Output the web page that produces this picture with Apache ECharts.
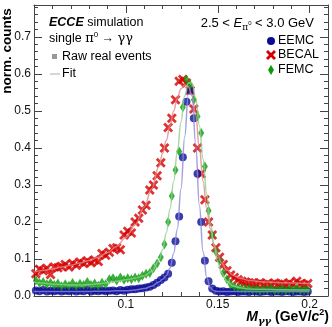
<!DOCTYPE html>
<html>
<head>
<meta charset="utf-8">
<script src="https://cdn.jsdelivr.net/npm/echarts@6/dist/echarts.min.js"></script>
<style>
  html, body { margin: 0; padding: 0; background: #fff; }
  #chart { width: 332px; height: 327px; }
</style>
</head>
<body>
<div id="chart"></div>
<script>
// bin centres (GeV/c^2)
var binX = [0.051, 0.053, 0.055, 0.057, 0.059, 0.061, 0.063, 0.065, 0.067, 0.069,
            0.071, 0.073, 0.075, 0.077, 0.079, 0.081, 0.083, 0.085, 0.087, 0.089,
            0.091, 0.093, 0.095, 0.097, 0.099, 0.101, 0.103, 0.105, 0.107, 0.109,
            0.111, 0.113, 0.115, 0.117, 0.119, 0.121, 0.123, 0.125, 0.127, 0.129,
            0.131, 0.133, 0.135, 0.137, 0.139, 0.141, 0.143, 0.145, 0.147, 0.149,
            0.151, 0.153, 0.155, 0.157, 0.159, 0.161, 0.163, 0.165, 0.167, 0.169,
            0.171, 0.173, 0.175, 0.177, 0.179, 0.181, 0.183, 0.185, 0.187, 0.189,
            0.191, 0.193, 0.195, 0.197, 0.199];

var becal = [0.060, 0.072, 0.068, 0.075, 0.058, 0.078, 0.076, 0.080, 0.085, 0.078,
             0.088, 0.083, 0.092, 0.088, 0.095, 0.090, 0.097, 0.093, 0.115, 0.110,
             0.118, 0.128, 0.130, 0.125, 0.165, 0.175, 0.170, 0.200, 0.210, 0.232,
             0.245, 0.286, 0.300, 0.325, 0.360, 0.400, 0.455, 0.480, 0.530, 0.580,
             0.585, 0.575, 0.555, 0.505, 0.400, 0.330, 0.260, 0.200, 0.165, 0.130,
             0.105, 0.085, 0.068, 0.057, 0.050, 0.044, 0.040, 0.038, 0.036, 0.035,
             0.032, 0.036, 0.031, 0.034, 0.030, 0.035, 0.032, 0.033, 0.030, 0.036,
             0.031, 0.040, 0.033, 0.030, 0.034];

var femc = [0.042, 0.035, 0.038, 0.032, 0.036, 0.030, 0.034, 0.026, 0.032, 0.028,
            0.035, 0.027, 0.033, 0.030, 0.038, 0.030, 0.034, 0.028, 0.036, 0.032,
            0.045, 0.048, 0.042, 0.050, 0.044, 0.048, 0.045, 0.050, 0.048, 0.055,
            0.060, 0.062, 0.075, 0.088, 0.105, 0.140, 0.200, 0.270, 0.340, 0.390,
            0.510, 0.585, 0.570, 0.530, 0.485, 0.440, 0.350, 0.230, 0.165, 0.120,
            0.095, 0.062, 0.045, 0.032, 0.025, 0.022, 0.020, 0.018, 0.020, 0.016,
            0.019, 0.015, 0.018, 0.016, 0.020, 0.015, 0.017, 0.019, 0.015, 0.018,
            0.016, 0.020, 0.015, 0.017, 0.016];

var eemc = [0.015, 0.013, 0.016, 0.012, 0.014, 0.013, 0.015, 0.012, 0.014, 0.013,
            0.015, 0.012, 0.014, 0.013, 0.016, 0.012, 0.014, 0.013, 0.015, 0.013,
            0.014, 0.015, 0.013, 0.016, 0.014, 0.017, 0.018, 0.018, 0.020, 0.021,
            0.023, 0.025, 0.030, 0.036, 0.043, 0.050, 0.060, 0.090, 0.148, 0.215,
            0.375, 0.525, 0.555, 0.480, 0.330, 0.200, 0.095, 0.040, 0.020, 0.014,
            0.012, 0.013, 0.011, 0.012, 0.013, 0.011, 0.012, 0.012, 0.011, 0.013,
            0.012, 0.011, 0.012, 0.013, 0.011, 0.012, 0.012, 0.011, 0.013, 0.012,
            0.011, 0.012, 0.012, 0.011, 0.012];

// fit curves
var fitX = [0.05, 0.055, 0.06, 0.065, 0.07, 0.075, 0.08, 0.085, 0.09, 0.095,
            0.1, 0.105, 0.11, 0.114, 0.118, 0.12, 0.122, 0.124, 0.126, 0.128,
            0.13, 0.132, 0.134, 0.136, 0.138, 0.14, 0.142, 0.144, 0.146, 0.148,
            0.15, 0.152, 0.155, 0.158, 0.162, 0.167, 0.175, 0.185, 0.2];

var becalFit = [0.065, 0.069, 0.073, 0.078, 0.083, 0.089, 0.096, 0.105, 0.117, 0.134,
                0.158, 0.192, 0.240, 0.290, 0.350, 0.385, 0.420, 0.460, 0.500, 0.535,
                0.560, 0.570, 0.565, 0.540, 0.490, 0.400, 0.310, 0.235, 0.180, 0.140,
                0.110, 0.090, 0.070, 0.057, 0.048, 0.042, 0.038, 0.036, 0.034];

var femcFit = [0.038, 0.035, 0.032, 0.031, 0.030, 0.030, 0.031, 0.033, 0.036, 0.040,
               0.044, 0.048, 0.055, 0.066, 0.095, 0.125, 0.170, 0.235, 0.310, 0.390,
               0.470, 0.540, 0.575, 0.575, 0.535, 0.460, 0.370, 0.275, 0.195, 0.135,
               0.092, 0.063, 0.040, 0.028, 0.022, 0.019, 0.018, 0.017, 0.016];

var eemcFit = [0.012, 0.012, 0.012, 0.012, 0.012, 0.012, 0.012, 0.013, 0.013, 0.014,
               0.014, 0.016, 0.020, 0.026, 0.038, 0.045, 0.055, 0.075, 0.115, 0.180,
               0.290, 0.430, 0.545, 0.545, 0.410, 0.245, 0.120, 0.050, 0.022, 0.014,
               0.012, 0.012, 0.012, 0.012, 0.012, 0.012, 0.012, 0.012, 0.012];

var xTickLabels = ['0.1', '0.15', '0.2'];
var yTickLabels = ['0.0', '0.1', '0.2', '0.3', '0.4', '0.5', '0.6', '0.7'];

var FONT = 'Liberation Sans';
var RED = '#d40000', GREEN = '#0a9a0a', BLUE = '#0b0b96';
var crossPath = 'path://M0,2 L2,0 L5,3 L8,0 L10,2 L7,5 L10,8 L8,10 L5,7 L2,10 L0,8 L3,5 Z';

function pairs(xs, ys) {
    return xs.map(function (x, i) { return [x, ys[i]]; });
}

// X shaped polygon for the legend, centred on cx, cy
function crossPoints(cx, cy, s) {
    var p = [[0, 2], [2, 0], [5, 3], [8, 0], [10, 2], [7, 5], [10, 8], [8, 10], [5, 7], [2, 10], [0, 8], [3, 5]];
    return p.map(function (q) { return [cx + (q[0] - 5) * s / 10, cy + (q[1] - 5) * s / 10]; });
}

function xLabel(v) {
    var s = String(+v.toFixed(3));
    return xTickLabels.indexOf(s) >= 0 ? s : '';
}
function yLabel(v) {
    var s = v.toFixed(1);
    return (Math.abs(v * 10 - Math.round(v * 10)) < 1e-6 && yTickLabels.indexOf(s) >= 0) ? s : '';
}

function axisCommon(extra) {
    var base = {
        type: 'value',
        axisLine: { show: true, onZero: false, lineStyle: { color: '#444', width: 1 } },
        axisTick: { show: true, inside: true, length: 8, lineStyle: { color: '#444' } },
        minorTick: { show: true, splitNumber: 5, length: 4, lineStyle: { color: '#444' } },
        splitLine: { show: false },
        minorSplitLine: { show: false }
    };
    for (var k in extra) base[k] = extra[k];
    return base;
}

var chart = echarts.init(document.getElementById('chart'), null, { renderer: 'canvas' });

var option = {
    animation: false,
    backgroundColor: '#fff',
    grid: { left: 34, right: 4, top: 5, bottom: 31 },
    xAxis: [
        axisCommon({ position: 'bottom', min: 0.05, max: 0.21, interval: 0.05,
            axisLabel: { formatter: xLabel, margin: 3, fontSize: 12, color: '#111', fontFamily: FONT } }),
        axisCommon({ position: 'top', min: 0.05, max: 0.21, interval: 0.05,
            axisLabel: { show: false } })
    ],
    yAxis: [
        axisCommon({ position: 'left', min: 0, max: 0.786, interval: 0.1,
            axisLabel: { formatter: yLabel, margin: 3, fontSize: 12, color: '#111', fontFamily: FONT } }),
        axisCommon({ position: 'right', min: 0, max: 0.786, interval: 0.1,
            axisLabel: { show: false } })
    ],
    series: [
        { type: 'scatter', name: 'BECAL', data: pairs(binX, becal), symbol: crossPath, symbolSize: 10,
          itemStyle: { color: RED } },
        { type: 'scatter', name: 'EEMC', data: pairs(binX, eemc), symbol: 'circle', symbolSize: 8,
          itemStyle: { color: BLUE } },
        { type: 'scatter', name: 'FEMC', data: pairs(binX, femc), symbol: 'diamond', symbolSize: [6, 10],
          itemStyle: { color: GREEN } },
        { type: 'line', name: 'BECAL fit', data: pairs(fitX, becalFit), showSymbol: false, smooth: 0.4,
          smoothMonotone: 'x', lineStyle: { color: '#e08a8a', width: 1.5, opacity: 0.8 } },
        { type: 'line', name: 'FEMC fit', data: pairs(fitX, femcFit), showSymbol: false, smooth: 0.4,
          smoothMonotone: 'x', lineStyle: { color: '#8fd08f', width: 1.5, opacity: 0.8 } },
        { type: 'line', name: 'EEMC fit', data: pairs(fitX, eemcFit), showSymbol: false, smooth: 0.4,
          smoothMonotone: 'x', lineStyle: { color: '#8c8cd8', width: 1.5, opacity: 0.8 } }
    ],
    graphic: [
        // y axis title
        { type: 'text', x: 7, y: 51, rotation: Math.PI / 2,
          style: { text: 'norm. counts', font: 'bold 13.5px ' + FONT, fill: '#000',
                   textAlign: 'center', textVerticalAlign: 'middle' } },
        // x axis title
        { type: 'text', x: 329, y: 317,
          style: { text: '{m|M}{s|γγ}{t| (GeV/}{m|c}{p|2}{t|)}', textAlign: 'right', textVerticalAlign: 'middle',
                   rich: {
                       m: { font: 'italic bold 14px ' + FONT, lineHeight: 18, fill: '#000' },
                       t: { font: 'bold 14px ' + FONT, lineHeight: 18, fill: '#000' },
                       s: { font: 'italic bold 10px "DejaVu Serif"', lineHeight: 10, verticalAlign: 'bottom', fill: '#000' },
                       p: { font: 'bold 9px ' + FONT, lineHeight: 10, verticalAlign: 'top', fill: '#000' }
                   } } },
        // left labels
        { type: 'text', x: 49, y: 23,
          style: { text: '{b|ECCE}{n| simulation}', textVerticalAlign: 'middle',
                   rich: {
                       b: { font: 'italic bold 12.5px ' + FONT, fill: '#000' },
                       n: { font: '12.5px ' + FONT, fill: '#000' }
                   } } },
        { type: 'text', x: 49, y: 39,
          style: { text: '{n|single }{g|π}{p|0}{n| → }{g|γγ}', textVerticalAlign: 'middle',
                   rich: {
                       n: { font: '12.5px ' + FONT, lineHeight: 16, fill: '#000' },
                       g: { font: '13px "DejaVu Serif"', lineHeight: 16, fill: '#000' },
                       p: { font: '8px ' + FONT, lineHeight: 10, verticalAlign: 'top', fill: '#000' }
                   } } },
        { type: 'rect', shape: { x: 52, y: 54, width: 5, height: 5 }, style: { fill: '#999' } },
        { type: 'text', x: 62, y: 57,
          style: { text: 'Raw real events', font: '12.5px ' + FONT, fill: '#000', textVerticalAlign: 'middle' } },
        { type: 'line', shape: { x1: 50, y1: 74, x2: 60, y2: 74 }, style: { stroke: '#bbb', lineWidth: 1.2 } },
        { type: 'text', x: 62, y: 74,
          style: { text: 'Fit', font: '12.5px ' + FONT, fill: '#000', textVerticalAlign: 'middle' } },
        // energy range
        { type: 'text', x: 314, y: 23,
          style: { text: '{n|2.5 < }{e|E}{s|π}{p|0}{n| < 3.0 GeV}', textAlign: 'right', textVerticalAlign: 'middle',
                   rich: {
                       n: { font: '13px ' + FONT, lineHeight: 18, fill: '#000' },
                       e: { font: 'italic 13px ' + FONT, lineHeight: 18, fill: '#000' },
                       s: { font: '9px "DejaVu Serif"', lineHeight: 9, verticalAlign: 'bottom', fill: '#000' },
                       p: { font: '6px ' + FONT, lineHeight: 18, verticalAlign: 'middle', fill: '#000' }
                   } } },
        // legend
        { type: 'circle', shape: { cx: 271, cy: 41, r: 4 }, style: { fill: BLUE } },
        { type: 'text', x: 278, y: 41,
          style: { text: 'EEMC', font: '12.5px ' + FONT, fill: '#000', textVerticalAlign: 'middle' } },
        { type: 'polygon', shape: { points: crossPoints(271, 55, 10) }, style: { fill: RED } },
        { type: 'text', x: 278, y: 55,
          style: { text: 'BECAL', font: '12.5px ' + FONT, fill: '#000', textVerticalAlign: 'middle' } },
        { type: 'polygon', shape: { points: [[271, 65], [274, 70], [271, 75], [268, 70]] }, style: { fill: GREEN } },
        { type: 'text', x: 278, y: 70,
          style: { text: 'FEMC', font: '12.5px ' + FONT, fill: '#000', textVerticalAlign: 'middle' } }
    ]
};

chart.setOption(option);
</script>
</body>
</html>
